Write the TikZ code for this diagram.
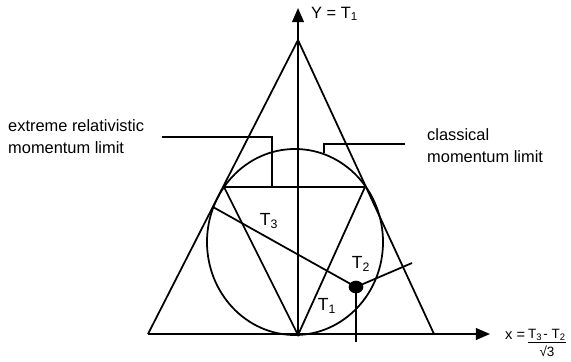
\documentclass[tikz,border=0pt]{standalone}
\usepackage{fontspec}
\setmainfont{Liberation Sans}
\usetikzlibrary{arrows.meta}
\tikzset{
  txt/.style={font=\fontsize{14}{19}\selectfont, inner sep=0pt, align=left},
  lbl/.style={font=\fontsize{15}{17}\selectfont, inner sep=0pt},
  frc/.style={font=\fontsize{11.5}{13}\selectfont, inner sep=0pt},
  axisline/.style={line width=1.5pt, -{Triangle[length=12pt, width=10pt]}},
  thin/.style={line width=1.5pt},
}
\begin{document}
\begin{tikzpicture}[x=0.03cm, y=-0.03cm]
    \useasboundingbox (0,0) rectangle (571,361);

    % Punkte
    \coordinate (orig) at (298,335);
    \coordinate (apex) at (298,40);
    \coordinate (lcorner) at (148,334);
    \coordinate (rcorner) at (434,334);
    \coordinate (ytip) at (298,8);
    \coordinate (xtip) at (490,334);
    \coordinate (ctr) at (295,242);
    \coordinate (inl) at (224,187);
    \coordinate (inr) at (365,187);
    \coordinate (pt) at (356,287);
    \coordinate (t3end) at (213,207);
    \coordinate (t2end) at (412,263);
    \coordinate (t1end) at (356,342);

    % Achsen
    \draw[axisline] (orig) -- (ytip);
    \draw[axisline] (lcorner) -- (xtip);

    % grosses Dreieck
    \draw[thin] (lcorner) -- (apex) -- (rcorner);

    % Kreis
    \draw[thin] (ctr) ellipse [x radius=2.64cm, y radius=2.79cm];

    % inneres Dreieck
    \draw[thin] (inl) -- (inr) -- (orig) -- cycle;

    % Abstaende
    \draw[thin] (t3end) -- (pt);
    \draw[thin] (pt) -- (t2end);
    \draw[thin] (pt) -- (t1end);
    \fill (pt) ellipse [x radius=0.22cm, y radius=0.19cm];

    % Grenzen
    \coordinate (erl) at (162,137);
    \coordinate (erk) at (272,137);
    \coordinate (erd) at (272,187);
    \draw[thin] (erl) -- (erk) -- (erd);
    \coordinate (cll) at (405,144);
    \coordinate (clk) at (324,144);
    \coordinate (cld) at (324,153);
    \draw[thin] (cll) -- (clk) -- (cld);

    % Texte
    \node[txt, anchor=west] (extreme) at (8,137) {extreme relativistic\\momentum limit};
    \node[txt, anchor=west] (classical) at (427,146) {classical\\momentum limit};
    \node[lbl, font=\fontsize{14}{16}\selectfont, anchor=west] (ylabel) at (311,14) {Y = T\textsubscript{1}};
    \node[lbl] (t3) at (269,221) {T\textsubscript{3}};
    \node[lbl] (t2) at (361,264) {T\textsubscript{2}};
    \node[lbl] (t1) at (327,306) {T\textsubscript{1}};

    % x-Achse Beschriftung
    \node[frc, font=\fontsize{12.5}{14}\selectfont, anchor=west] (xeq) at (505,336) {x =};
    \node[frc, anchor=south] (num) at (547,341) {T\textsubscript{3}\kern1pt- T\textsubscript{2}};
    \node[frc, anchor=north] (den) at (547,346) {√3};
    \draw[line width=0.8pt] ([yshift=-1pt]num.south west) -- ([yshift=-1pt]num.south east);
\end{tikzpicture}
\end{document}
